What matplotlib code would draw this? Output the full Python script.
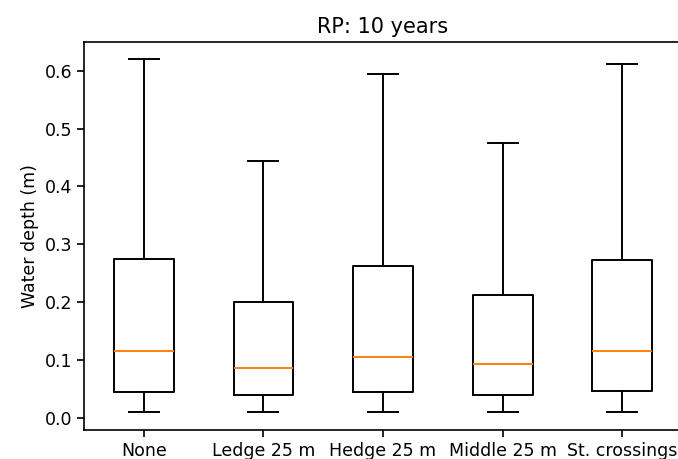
import matplotlib
matplotlib.use("Agg")
import matplotlib.pyplot as plt

categories = ["None", "Ledge 25 m", "Hedge 25 m", "Middle 25 m", "St. crossings"]
whislo = [0.010, 0.010, 0.010, 0.010, 0.010]
q1 = [0.045, 0.040, 0.045, 0.040, 0.047]
med = [0.115, 0.086, 0.105, 0.093, 0.115]
q3 = [0.275, 0.200, 0.262, 0.212, 0.272]
whishi = [0.621, 0.444, 0.594, 0.475, 0.612]

stats = []
for c, lo, a, m, b, hi in zip(categories, whislo, q1, med, q3, whishi):
    stats.append(dict(label=c, whislo=lo, q1=a, med=m, q3=b, whishi=hi, fliers=[]))

fig = plt.figure(figsize=(6.78, 4.59), dpi=100)
ax = fig.add_axes([84/678, 29/459, (682-84)/678, (430-41.7)/459])
lw = 1.4
ax.bxp(stats, widths=0.5,
       boxprops=dict(linewidth=lw, color="black"),
       whiskerprops=dict(linewidth=lw, color="black"),
       capprops=dict(linewidth=lw, color="black"),
       medianprops=dict(linewidth=lw, color="#ff7f0e"))
ax.set_xlim(0.5, 5.5)
ax.set_ylim(-0.0213, 0.6505)
ax.set_yticks([0.0, 0.1, 0.2, 0.3, 0.4, 0.5, 0.6])
ax.tick_params(labelsize=12.5, width=1.2, length=5)
for s in ax.spines.values():
    s.set_linewidth(1.2)
ax.set_ylabel("Water depth (m)", fontsize=12.5)
ax.set_title("RP: 10 years", fontsize=15)
fig.savefig("out.png", dpi=100)
